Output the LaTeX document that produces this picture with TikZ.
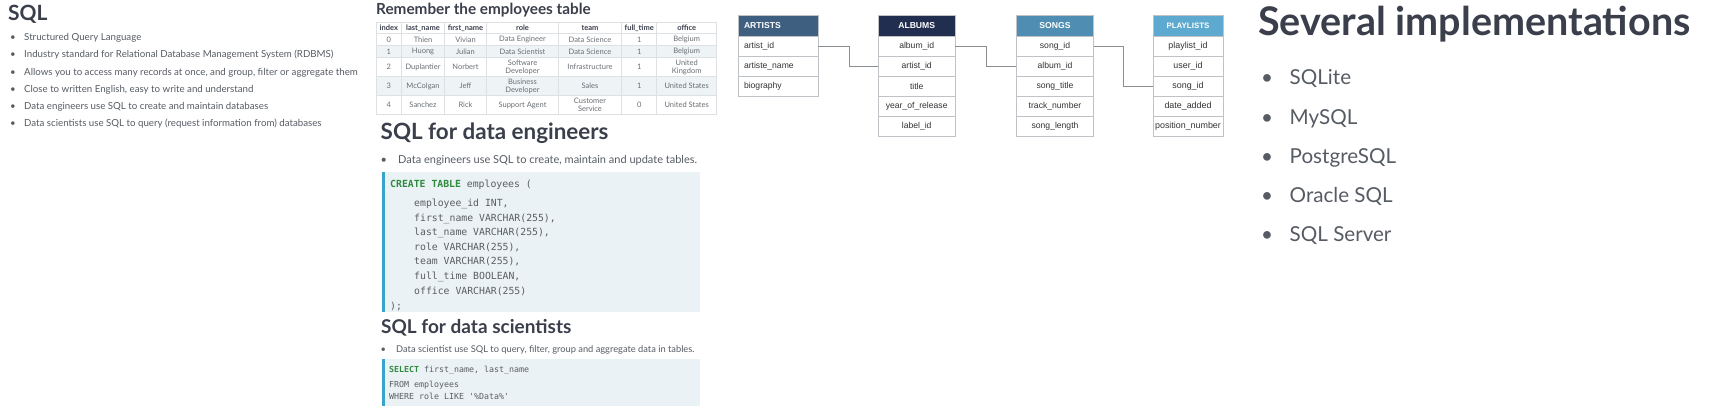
\documentclass[tikz,border=0pt]{standalone}
\usepackage{fontspec}
\setmainfont{Lato}
\newfontfamily\erfont{Liberation Sans}
\newfontfamily\codefont{DejaVu Sans Mono}
\usetikzlibrary{calc}
\definecolor{headc}{HTML}{3B3F4C}
\definecolor{txtc}{HTML}{575C64}
\definecolor{tabtxt}{HTML}{6A6E74}
\definecolor{tabline}{HTML}{DDE1E4}
\definecolor{tabshade}{HTML}{EEF3F5}
\definecolor{codebg}{HTML}{EAF2F5}
\definecolor{codebar}{HTML}{3AA3CB}
\definecolor{kw}{HTML}{2E8B3E}
\definecolor{codetxt}{HTML}{5A5E63}
\definecolor{artc}{HTML}{3E5F80}
\definecolor{albc}{HTML}{222E50}
\definecolor{sonc}{HTML}{4F8EB2}
\definecolor{plc}{HTML}{5DA9CF}
\definecolor{erline}{HTML}{BFC3C7}
\definecolor{conn}{HTML}{8A8E92}
\newcommand\fsz[2]{\fontsize{#1}{#2}\selectfont}
\begin{document}
\begin{tikzpicture}[x=1pt,y=-1pt,
  ttl/.style={anchor=base west, inner sep=0, text=headc, font=\bfseries\fsz{20}{24}},
  bl/.style={anchor=base west, inner sep=0, text=txtc, font=\fsz{9.7}{12}},
  cell/.style={inner sep=0, text=tabtxt, font=\fsz{7.5}{7.9}, align=center},
  hcell/.style={cell, font=\bfseries\fsz{7.5}{7.9}, text=headc},
  codeln/.style={anchor=base west, inner sep=0, text=codetxt, font=\codefont\fsz{9.8}{12}},
  codesm/.style={anchor=base west, inner sep=0, text=codetxt, font=\codefont\fsz{8.3}{10}},
  erhead/.style={draw=erline, minimum height=20.3, inner sep=0, text=white, font=\erfont\bfseries\fsz{8.6}{10}},
  erow/.style={draw=erline, fill=white, minimum height=20, inner sep=0, text=black!80, font=\erfont\fsz{8.6}{10}},
  link/.style={draw=conn, line width=0.9}]
\useasboundingbox (0,0) rectangle (1711,406);
\fill[white] (0,0) rectangle (1711,406);

% ---------- left column ----------
\node[ttl, font=\bfseries\fsz{21}{25}] (sqlt) at (8,21) {SQL};
\foreach \yy/\tt [count=\i] in {40.3/Structured Query Language,
  57.6/Industry standard for Relational Database Management System (RDBMS),
  75.3/{Allows you to access many records at once, and group, filter or aggregate them},
  92.2/{Close to written English, easy to write and understand},
  109.2/Data engineers use SQL to create and maintain databases,
  126.2/Data scientists use SQL to query (request information from) databases}
  \node[bl] (lb\i) at (10,\yy) {\makebox[14pt][l]{\textbullet}\tt};

% ---------- employees table ----------
\node[ttl, font=\bfseries\fsz{15.3}{18}] (remt) at (376,15) {Remember the employees table};
\fill[tabshade] (376,45.3) rectangle (716.7,57.5);
\fill[tabshade] (376,76.3) rectangle (716.7,95.8);
\foreach \yy in {22.7,33.3,45.3,57.5,76.3,95.8,114}
  \draw[tabline, line width=0.7] (376,\yy) -- (716.7,\yy);
\foreach \xx in {376,401.7,444.3,486.7,558.3,621.7,656.7,716.7}
  \draw[tabline, line width=0.7] (\xx,22.7) -- (\xx,114);
\foreach \cx/\tt [count=\i] in {388.8/index,423/last\_name,465.5/first\_name,522.5/role,590/team,639.2/full\_time,686.7/office}
  \node[hcell] (th\i) at (\cx,28.2) {\tt};
\foreach \cx/\tt [count=\i] in {388.8/0,423/Thien,465.5/Vivian,522.5/Data Engineer,590/Data Science,639.2/1,686.7/Belgium}
  \node[cell] (ta\i) at (\cx,39.5) {\tt};
\foreach \cx/\tt [count=\i] in {388.8/1,423/Huong,465.5/Julian,522.5/Data Scientist,590/Data Science,639.2/1,686.7/Belgium}
  \node[cell] (tb\i) at (\cx,51.5) {\tt};
\foreach \cx/\tt [count=\i] in {388.8/2,423/Duplantier,465.5/Norbert,522.5/{Software\\Developer},590/Infrastructure,639.2/1,686.7/{United\\Kingdom}}
  \node[cell] (tc\i) at (\cx,67) {\tt};
\foreach \cx/\tt [count=\i] in {388.8/3,423/McColgan,465.5/Jeff,522.5/{Business\\Developer},590/Sales,639.2/1,686.7/United States}
  \node[cell] (td\i) at (\cx,86) {\tt};
\foreach \cx/\tt [count=\i] in {388.8/4,423/Sanchez,465.5/Rick,522.5/Support Agent,590/{Customer\\Service},639.2/0,686.7/United States}
  \node[cell] (te\i) at (\cx,105) {\tt};

% ---------- SQL for data engineers ----------
\node[ttl, font=\bfseries\fsz{22.4}{26}] (engt) at (380.5,140) {SQL for data engineers};
\node[bl, font=\fsz{11}{13}] (engb) at (380.5,163.5) {\makebox[17.5pt][l]{\textbullet}Data engineers use SQL to create, maintain and update tables.};
\fill[codebg] (381.7,171.7) rectangle (700,312.3);
\fill[codebar] (381.7,171.7) rectangle (384.5,312.3);
\node[codeln] (c1) at (390,187.8) {\textcolor{kw}{\bfseries CREATE TABLE} employees (};
\foreach \yy/\tt [count=\i] in {206.8/{employee\_id INT,},221.2/{first\_name VARCHAR(255),},235.8/{last\_name VARCHAR(255),},250.2/{role VARCHAR(255),},264.8/{team VARCHAR(255),},279.5/{full\_time BOOLEAN,},294.5/{office VARCHAR(255)}}
  \node[codeln] (cl\i) at (414,\yy) {\tt};
\node[codeln] (cend) at (390,309.2) {);};

% ---------- SQL for data scientists ----------
\node[ttl, font=\bfseries\fsz{19}{23}] (scit) at (381,333) {SQL for data scientists};
\node[bl, font=\fsz{9.3}{11}] (scib) at (380.5,352) {\makebox[15.5pt][l]{\textbullet}Data scientist use SQL to query, filter, group and aggregate data in tables.};
\fill[codebg] (382,359) rectangle (700,406);
\fill[codebar] (382,359) rectangle (384.8,406);
\node[codesm] (s1) at (389,372) {\textcolor{kw}{\bfseries SELECT} first\_name, last\_name};
\node[codesm] (s2) at (389,387.3) {FROM employees};
\node[codesm] (s3) at (389,399.7) {WHERE role LIKE \textquotesingle\%Data\%\textquotesingle};

% ---------- ER diagram ----------
\node[erhead, fill=artc, minimum width=80, inner xsep=6, text width=68, align=left] (arh) at (778,25.85) {ARTISTS};
\foreach \tt [count=\i] in {artist\_id,artiste\_name,biography}
  \node[erow, minimum width=80, inner xsep=6, text width=68, align=left] (ar\i) at (778,26+20*\i) {\tt};

\node[erhead, fill=albc, minimum width=76.7] (alh) at (916.7,25.85) {ALBUMS};
\foreach \tt [count=\i] in {album\_id,artist\_id,title,year\_of\_release,label\_id}
  \node[erow, minimum width=76.7] (al\i) at (916.7,26+20*\i) {\tt};

\node[erhead, fill=sonc, minimum width=76.7] (soh) at (1055,25.85) {SONGS};
\foreach \tt [count=\i] in {song\_id,album\_id,song\_title,track\_number,song\_length}
  \node[erow, minimum width=76.7] (so\i) at (1055,26+20*\i) {\tt};

\node[erhead, fill=plc, minimum width=70.6, font=\erfont\bfseries\fsz{7.9}{9}] (plh) at (1188,25.85) {PLAYLISTS};
\foreach \tt [count=\i] in {playlist\_id,user\_id,song\_id,date\_added,position\_number}
  \node[erow, minimum width=70.6, font=\erfont\fsz{8.9}{10}] (pl\i) at (1188,26+20*\i) {\tt};

\draw[link] (ar1.east) -- ++(31,0) |- (al2.west);
\draw[link] (al1.east) -- ++(31,0) |- (so2.west);
\draw[link] (so1.east) -- ++(30,0) |- (pl3.west);

% ---------- right column ----------
\node[ttl, font=\bfseries\fsz{39.5}{44}] (sevt) at (1258,36) {Several implementations};
\foreach \yy/\tt [count=\i] in {85/SQLite,125/MySQL,163.4/PostgreSQL,202.7/Oracle SQL,241.7/SQL Server}
  \node[bl, font=\fsz{20.6}{24}] (rb\i) at (1261,\yy) {\makebox[28.5pt][l]{\textbullet}\tt};
\end{tikzpicture}
\end{document}
